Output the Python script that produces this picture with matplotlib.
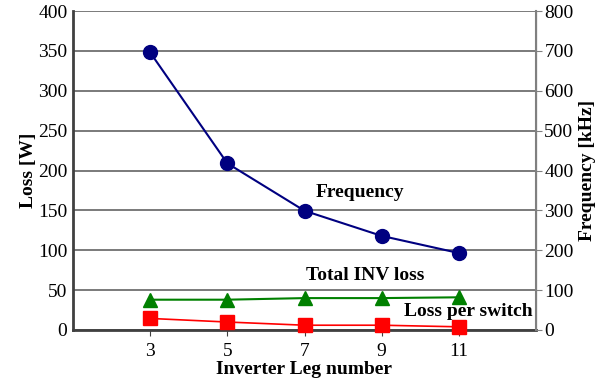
import matplotlib
matplotlib.use("Agg")
import matplotlib.pyplot as plt

plt.rcParams['font.family'] = ['Liberation Serif', 'DejaVu Serif']

# Inverter leg count vs. losses and switching frequency
legs = [3, 5, 7, 9, 11]
freq_khz = [696, 418, 299, 236, 193]
total_inv_loss = [38, 38, 40, 40, 41]
loss_per_switch = [14.5, 10, 6, 6, 4]

fig = plt.figure(figsize=(6.11, 3.92), dpi=100)
ax = fig.add_axes([73 / 611, 62 / 392, 463 / 611, 319 / 392])
ax2 = ax.twinx()

ax.set_xlim(1, 13)
ax.set_ylim(0, 400)
ax2.set_ylim(0, 800)
ax.set_yticks(range(0, 401, 50))
ax2.set_yticks(range(0, 801, 100))
ax.set_xticks(legs)

ax.grid(axis='y', color='#707070', linewidth=1.3)
ax.set_axisbelow(True)

ax.plot(legs, total_inv_loss, color='#008000', marker='^', markersize=10,
        linewidth=1.5, clip_on=False, zorder=3)
ax.plot(legs, loss_per_switch, color='#ff0000', marker='s', markersize=9.5,
        linewidth=1.2, clip_on=False, zorder=3)
ax2.plot(legs, freq_khz, color='#000080', marker='o', markersize=10,
         linewidth=1.5, clip_on=False, zorder=3)

for a in (ax, ax2):
    a.spines['top'].set_visible(False)
ax.spines['left'].set_color('#404040')
ax.spines['left'].set_linewidth(2)
ax.spines['bottom'].set_color('#404040')
ax.spines['bottom'].set_linewidth(2)
ax2.spines['right'].set_color('#808080')
ax2.spines['right'].set_linewidth(1.5)
ax2.spines['left'].set_visible(False)
ax2.spines['bottom'].set_visible(False)

ax.tick_params(axis='y', length=0, labelsize=14, pad=4)
ax.tick_params(axis='x', length=4, color='#404040', labelsize=14, pad=5)
ax2.tick_params(axis='y', length=4, color='#808080', labelsize=14, pad=2)

ax.set_xlabel('Inverter Leg number', fontsize=14, fontweight='bold', labelpad=1)
ax.set_ylabel('Loss [W]', fontsize=14, fontweight='bold', labelpad=1)
ax2.set_ylabel('Frequency [kHz]', fontsize=14, fontweight='bold', labelpad=4)

ax.text(8.44, 172, 'Frequency', fontsize=14, fontweight='bold', ha='center', va='center')
ax.text(8.57, 68, 'Total INV loss', fontsize=14, fontweight='bold', ha='center', va='center')
ax.text(11.24, 23, 'Loss per switch', fontsize=14, fontweight='bold', ha='center', va='center')

fig.savefig('out.png', dpi=100)
